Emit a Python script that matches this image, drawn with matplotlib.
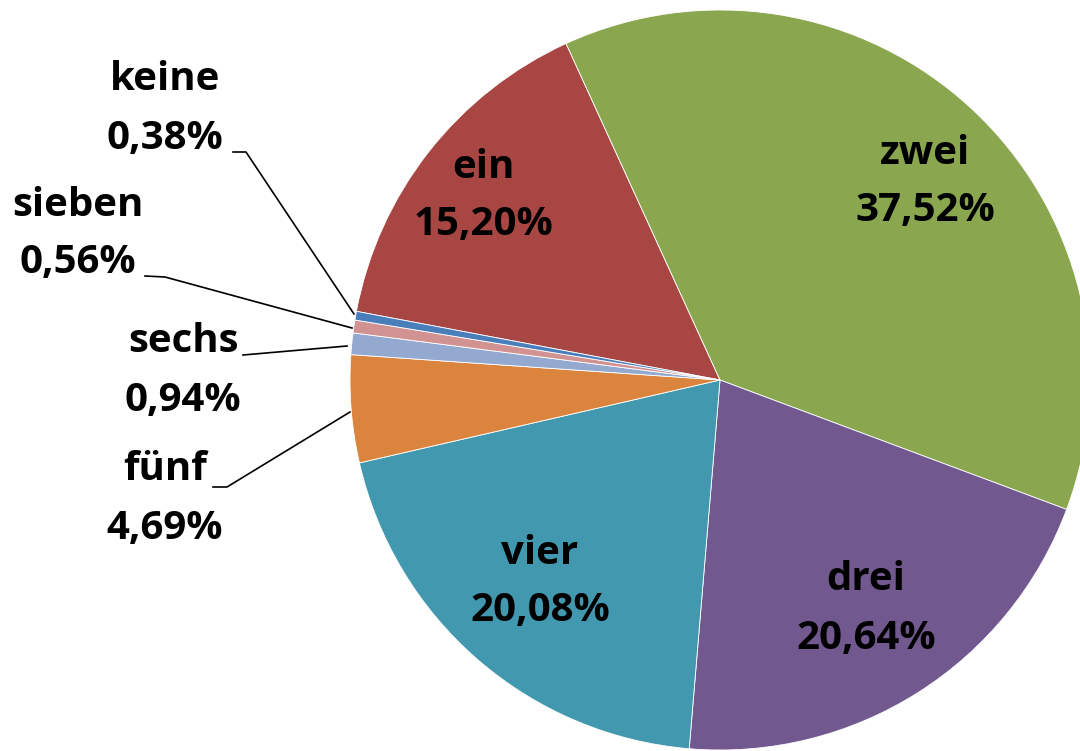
import matplotlib.pyplot as plt

categories = ["ein", "zwei", "drei", "vier", "fünf", "sechs", "sieben", "keine"]
values = [15.20, 37.52, 20.64, 20.08, 4.69, 0.94, 0.56, 0.38]
labels = ["15,20%", "37,52%", "20,64%", "20,08%", "4,69%", "0,94%", "0,56%", "0,38%"]
colors = ["#A84644", "#8AA64F", "#71588F", "#4298AF", "#DB843D", "#93A9CF", "#D19392", "#4A7EBB"]

H = 751
fig = plt.figure(figsize=(10.8, 7.51), dpi=100)
ax = fig.add_axes([0, 0, 1, 1])
ax.set_xlim(0, 1080)
ax.set_ylim(0, H)
ax.set_aspect('equal')
ax.axis('off')

ax.pie(values, colors=colors, startangle=169.3, counterclock=False,
       center=(720, H - 380), radius=370,
       wedgeprops=dict(linewidth=0.6, edgecolor='white'))
ax.set_xlim(0, 1080)
ax.set_ylim(0, H)

pos = {
    "ein": (483, 167), "zwei": (925, 153), "drei": (866, 580), "vier": (540, 553),
    "fünf": (165, 470), "sechs": (183, 342), "sieben": (78, 205), "keine": (165, 80),
}
font = dict(family=["Open Sans", "DejaVu Sans"], fontweight='bold', fontsize=29, color='black')
for c, l in zip(categories, labels):
    x, y = pos[c]
    ax.text(x, H - y, c, ha='center', va='center', **font)
    ax.text(x, H - y - 58, l, ha='center', va='center', **font)

leaders = [
    [(233, 152), (246, 152), (354, 314)],
    [(145, 276), (165, 277), (352, 328)],
    [(243, 355), (347, 346)],
    [(213, 487), (227, 487), (350, 412)],
]
for pts in leaders:
    xs = [p[0] for p in pts]
    ys = [H - p[1] for p in pts]
    ax.plot(xs, ys, color='black', linewidth=1.2)

fig.savefig("out.png", dpi=100)
